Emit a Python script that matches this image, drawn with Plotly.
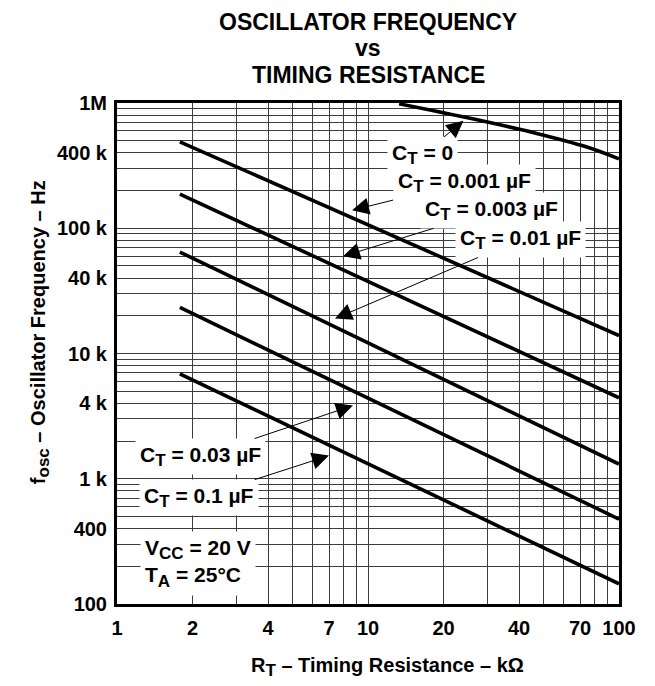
import math
import plotly.graph_objects as go

# ---------------- data ----------------
r_line = [1.78, 100]                      # kOhm, start/end of the straight curves
f_ct_0001 = [490e3, 13.9e3]              # CT = 0.001 uF
f_ct_0003 = [187e3, 4.43e3]              # CT = 0.003 uF
f_ct_001 = [64.6e3, 1.31e3]              # CT = 0.01 uF
f_ct_003 = [23.3e3, 476]                 # CT = 0.03 uF
f_ct_01 = [6.88e3, 145]                  # CT = 0.1 uF
r_ct0 = [13.3, 25.5, 47, 74, 100]        # CT = 0
f_ct0 = [985e3, 754e3, 572e3, 447e3, 358e3]

x_major = [1, 2, 4, 7, 10, 20, 40, 70, 100]
x_major_text = ["1", "2", "4", "7", "10", "20", "40", "70", "100"]
x_minor = [3, 5, 6, 8, 9, 30, 50, 60, 80, 90]
y_major = [100, 400, 1e3, 4e3, 1e4, 4e4, 1e5, 4e5, 1e6]
y_major_text = ["100", "400", "1 k", "4 k", "10 k", "40 k", "100 k", "400 k", "1M"]
y_minor = [m * 10 ** e for e in range(2, 6) for m in (2, 3, 5, 6, 7, 8, 9)]
title_lines = ["OSCILLATOR FREQUENCY", "vs", "TIMING RESISTANCE"]

FONT = "Liberation Sans, Arial, Helvetica, sans-serif"
SUB = '<sub><span style="font-size:17px">{}</span></sub>'

fig = go.Figure()
line_style = dict(color="black", width=3.6)
for f in [f_ct_0001, f_ct_0003, f_ct_001, f_ct_003, f_ct_01]:
    fig.add_trace(go.Scatter(x=r_line, y=f, mode="lines", line=line_style,
                             showlegend=False, hoverinfo="skip"))
fig.add_trace(go.Scatter(x=r_ct0, y=f_ct0, mode="lines", line=dict(line_style, shape="spline"),
                         showlegend=False, hoverinfo="skip"))

# label annotations: text, tip (R, f), offset of label centre in px
labels = [
    ("C" + SUB.format("T") + " = 0", 24.0, 7.2e5, -41, 34),
    ("C" + SUB.format("T") + " = 0.001 µF", 8.64, 1.39e5, 112, -28),
    ("C" + SUB.format("T") + " = 0.003 µF", 7.95, 5.97e4, 149, -46),
    ("C" + SUB.format("T") + " = 0.01 µF", 7.39, 1.9e4, 185, -79),
    ("C" + SUB.format("T") + " = 0.03 µF", 8.71, 3.84e3, -152, 51),
    ("C" + SUB.format("T") + " = 0.1 µF", 6.99, 1.53e3, -130, 42),
]
for text, r, f, ax, ay in labels:
    fig.add_annotation(x=math.log10(r), y=math.log10(f), xref="x", yref="y",
                       text=text, showarrow=True, ax=ax, ay=ay,
                       arrowhead=2, arrowsize=3.4, arrowwidth=1, arrowcolor="black",
                       bgcolor="white", borderpad=4,
                       font=dict(family=FONT, size=21, color="black", weight="bold"))

fig.add_annotation(x=math.log10(1.24), y=math.log10(210), xref="x", yref="y",
                   xanchor="left", yanchor="middle", align="left", showarrow=False,
                   text="V" + SUB.format("CC") + " = 20 V<br>T" + SUB.format("A") + " = 25°C",
                   bgcolor="white", borderpad=4,
                   font=dict(family=FONT, size=21, color="black", weight="bold"))

# axis titles
fig.add_annotation(x=0.538, y=-0.126, xref="paper", yref="paper", showarrow=False,
                   xanchor="center", yanchor="middle",
                   text="R" + SUB.format("T") + " – Timing Resistance – kΩ",
                   font=dict(family=FONT, size=20, color="black", weight="bold"))
fig.add_annotation(x=-0.153, y=0.543, xref="paper", yref="paper", showarrow=False,
                   xanchor="center", yanchor="middle", textangle=-90,
                   text="f" + SUB.format("osc") + " – Oscillator Frequency – Hz",
                   font=dict(family=FONT, size=20, color="black", weight="bold"))

# title: three separate lines for tighter spacing
plot_top, plot_h = 95, 501
title_y = [1 + plot_top / plot_h, 1 + (plot_top - 40) / plot_h, 1 + (plot_top - 67) / plot_h]
title_anchor = ["top", "middle", "middle"]
for line, yy, anc in zip(title_lines, title_y, title_anchor):
    fig.add_annotation(x=0.5, y=yy, xref="paper", yref="paper", showarrow=False,
                       xanchor="center", yanchor=anc, text=line, borderpad=0,
                       font=dict(family=FONT, size=23, color="black", weight="bold"))

grid_color = "#3c3c3c"
tick_font = dict(family=FONT, size=20, color="black", weight="bold")
fig.update_xaxes(type="log", range=[0, 2], tickmode="array", tickvals=x_major, ticktext=x_major_text,
                 showgrid=True, gridcolor=grid_color, gridwidth=1,
                 minor=dict(tickmode="array", tickvals=x_minor, showgrid=True,
                            gridcolor=grid_color, gridwidth=1, ticks=""),
                 showline=True, linecolor="black", linewidth=3, mirror=True,
                 ticks="", ticklabelstandoff=4, zeroline=False, tickfont=tick_font)
fig.update_yaxes(type="log", range=[2, 6], tickmode="array", tickvals=y_major, ticktext=y_major_text,
                 showgrid=True, gridcolor=grid_color, gridwidth=1,
                 minor=dict(tickmode="array", tickvals=y_minor, showgrid=True,
                            gridcolor=grid_color, gridwidth=1, ticks=""),
                 showline=True, linecolor="black", linewidth=3, mirror=True,
                 ticks="", ticklabelstandoff=3, zeroline=False, tickfont=tick_font)

fig.update_layout(width=647, height=678, margin=dict(l=109, r=36, t=95, b=82),
                  paper_bgcolor="white", plot_bgcolor="white", showlegend=False,
                  hovermode=False, font=dict(family=FONT, color="black"))

fig.write_html("out.html")
